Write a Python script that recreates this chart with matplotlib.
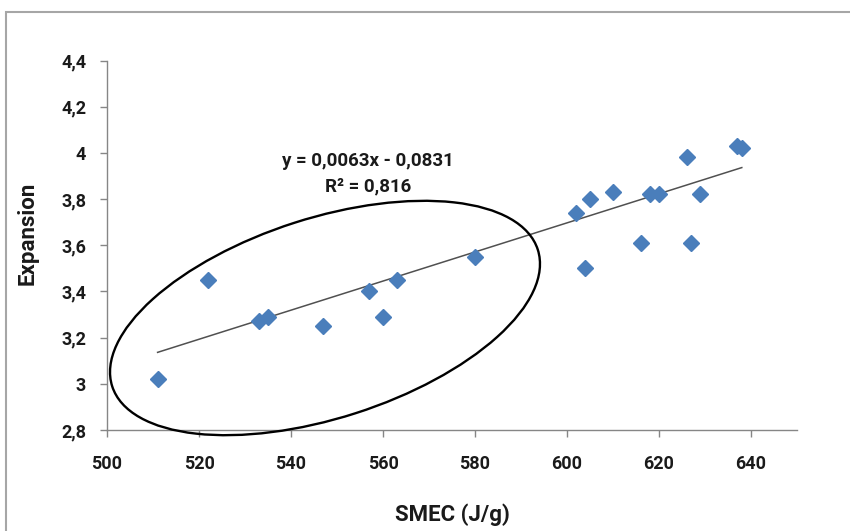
import matplotlib
matplotlib.use("Agg")
import matplotlib.pyplot as plt
from matplotlib.patches import Ellipse, Rectangle
import numpy as np

# Data
smec = [511, 522, 533, 535, 547, 557, 560, 563, 580, 602, 604, 605,
        610, 616, 618, 620, 626, 627, 629, 637, 638]
expansion = [3.02, 3.45, 3.27, 3.29, 3.25, 3.40, 3.29, 3.45, 3.55, 3.74, 3.50, 3.80,
             3.83, 3.61, 3.82, 3.82, 3.98, 3.61, 3.82, 4.03, 4.02]

# Linear trendline (as printed on the chart)
slope = 0.0063
intercept = -0.0831
equation_text = "y = 0,0063x - 0,0831"
r2_text = "R² = 0,816"

x_ticks = [500, 520, 540, 560, 580, 600, 620, 640]
y_ticks = [2.8, 3.0, 3.2, 3.4, 3.6, 3.8, 4.0, 4.2, 4.4]
y_tick_labels = ["2,8", "3", "3,2", "3,4", "3,6", "3,8", "4", "4,2", "4,4"]

plt.rcParams["font.family"] = ["Roboto", "DejaVu Sans"]

W, H = 850, 531
fig = plt.figure(figsize=(W / 100, H / 100), dpi=100)
ax = fig.add_axes([107 / W, 1 - 430 / H, 690 / W, (430 - 60.5) / H])

# Outer chart frame (Excel-style), cut off on right/bottom
fig.patches.append(Rectangle((6 / W, -0.05), 1.2, 1 - 12 / H + 0.05,
                             transform=fig.transFigure, fill=False,
                             edgecolor="#a6a6a6", linewidth=1.5))

# Scatter points
ax.plot(smec, expansion, linestyle="none", marker="D", markersize=7.8,
        color="#4a7ebb", markeredgecolor="#4a7ebb", zorder=3)

# Trendline across the data range
xt = np.array([min(smec), max(smec)])
ax.plot(xt, slope * xt + intercept, color="#505050", linewidth=1.1, zorder=2)

ax.set_xlim(500, 650)
ax.set_ylim(2.8, 4.4)
ax.set_xticks(x_ticks)
ax.set_xticklabels([str(v) for v in x_ticks])
ax.set_yticks(y_ticks)
ax.set_yticklabels(y_tick_labels)

for side in ["top", "right"]:
    ax.spines[side].set_visible(False)
for side in ["left", "bottom"]:
    ax.spines[side].set_color("#868686")
    ax.spines[side].set_linewidth(1.0)
ax.tick_params(axis="both", colors="#868686", length=5, width=1, direction="out")
ax.tick_params(axis="x", labelcolor="#1a1a1a", labelsize=13, pad=13)
ax.tick_params(axis="y", labelcolor="#1a1a1a", labelsize=13, pad=10)
for lbl in ax.get_xticklabels() + ax.get_yticklabels():
    lbl.set_fontweight("bold")

# Axis titles
fig.text(452 / W, 1 - 515 / H, "SMEC (J/g)", ha="center", va="center",
         fontsize=16, fontweight="bold", color="#1a1a1a")
fig.text(28 / W, 1 - 233 / H, "Expansion", ha="center", va="center", rotation=90,
         fontsize=16, fontweight="bold", color="#1a1a1a")

# Trendline equation
fig.text(368 / W, 1 - 161 / H, equation_text, ha="center", va="center",
         fontsize=13.5, fontweight="bold", color="#1a1a1a")
fig.text(368 / W, 1 - 186 / H, r2_text, ha="center", va="center",
         fontsize=13.5, fontweight="bold", color="#1a1a1a")

# Hand-drawn ellipse around the low-SMEC group
fig.patches.append(Ellipse((325 / 100, (H - 318) / 100), 4.47, 2.00, angle=17.8,
                           transform=fig.dpi_scale_trans, fill=False,
                           edgecolor="black", linewidth=1.7))

fig.savefig("out.png", dpi=100, facecolor="white")
